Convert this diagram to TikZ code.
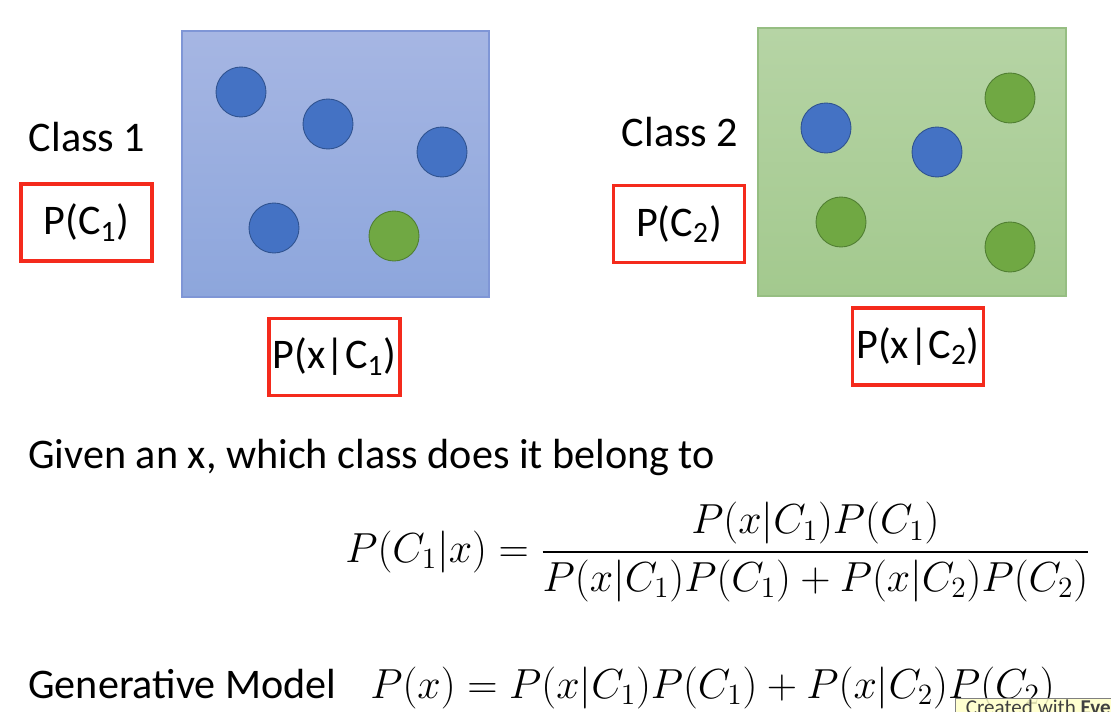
\RequirePackage{fix-cm}
\documentclass[tikz,border=0pt]{standalone}
\usepackage[no-math]{fontspec}
\usepackage{amsmath}
\setmainfont{Carlito}
\usetikzlibrary{positioning}

\definecolor{probred}{HTML}{F42A1C}
\definecolor{dotblue}{HTML}{4472C4}
\definecolor{dotblueline}{HTML}{2F528F}
\definecolor{dotgreen}{HTML}{70A843}
\definecolor{dotgreenline}{HTML}{507E32}
\definecolor{tipyellow}{HTML}{FFFFC8}

\begin{document}
\begin{tikzpicture}[x=0.02cm,y=-0.02cm,
  every node/.style={font=\fontsize{24}{29}\selectfont},
  mathtext/.style={inner sep=0pt,font=\fontsize{23.9}{29}\selectfont},
  classbox/.style={minimum width=6.14cm,minimum height=5.32cm,inner sep=0pt,line width=0.8pt},
  probbox/.style={draw=probred,line width=1.8pt,minimum width=2.62cm,minimum height=1.54cm,inner sep=0pt},
  bluedot/.style={circle,fill=dotblue,draw=dotblueline,line width=0.5pt,minimum size=1cm,inner sep=0pt},
  greendot/.style={circle,fill=dotgreen,draw=dotgreenline,line width=0.5pt,minimum size=1cm,inner sep=0pt}]
  \useasboundingbox (0,0) rectangle (1111,712);

  % class 1
  \node[classbox,draw={rgb,255:red,127;green,150;blue,214},top color={rgb,255:red,166;green,182;blue,227},bottom color={rgb,255:red,141;green,166;blue,220}] (box1) at (335.5,164) {};
  \foreach \x/\y [count=\i] in {241/92,328/124,442/152,274/228}
    \node[bluedot] (b1\i) at (\x,\y) {};
  \node[greendot] (g11) at (394,236) {};
  \node (cls1) at (87,137) {Class 1};
  \node[probbox] (pc1) at (86.5,222.5) {P(C\textsubscript{1})};
  \node[probbox] (px1) at (334.5,357) {P(x|C\textsubscript{1})};

  % class 2
  \node[classbox,draw={rgb,255:red,150;green,190;blue,130},top color={rgb,255:red,182;green,212;blue,165},bottom color={rgb,255:red,163;green,201;blue,142},minimum width=6.16cm,minimum height=5.36cm] (box2) at (912,162) {};
  \foreach \x/\y [count=\i] in {826/128,937/152}
    \node[bluedot] (b2\i) at (\x,\y) {};
  \foreach \x/\y [count=\i] in {1010/98,841/222,1010/247}
    \node[greendot] (g2\i) at (\x,\y) {};
  \node (cls2) at (680,132) {Class 2};
  \node[probbox] (pc2) at (679,224) {P(C\textsubscript{2})};
  \node[probbox] (px2) at (918,346.5) {P(x|C\textsubscript{2})};

  % posterior
  \node[anchor=base west,inner sep=0pt] (given) at (28,468) {Given an x, which class does it belong to};
  \node[mathtext,anchor=west] (bayes) at (345,552)
    {$\displaystyle P(C_1|x)=\frac{P(x|C_1)P(C_1)}{P(x|C_1)P(C_1)+P(x|C_2)P(C_2)}$};

  % generative model
  \node[anchor=base west,inner sep=0pt] (gen) at (28,698) {Generative Model};
  \node[mathtext,anchor=base west] (genmath) at (370,698) {$P(x)=P(x|C_1)P(C_1)+P(x|C_2)P(C_2)$};

  \node[anchor=north west,fill=tipyellow,fill opacity=0.85,text opacity=1,draw=gray,line width=0.4pt,inner xsep=6pt,inner ysep=1pt,font=\fontsize{12}{13}\selectfont,text=black!75] (tip) at (955,698) {Created with \textbf{Evernote}};
\end{tikzpicture}
\end{document}
